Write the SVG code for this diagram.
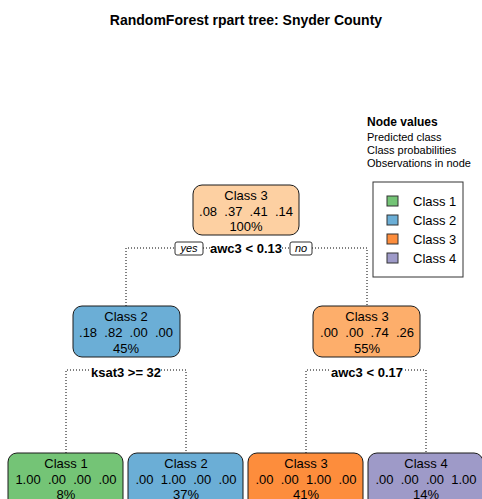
<svg xmlns="http://www.w3.org/2000/svg" width="482" height="499" viewBox="0 0 482 499">
<style>
text{font-family:"Liberation Sans",Arial,sans-serif;fill:#000}
.t{font-size:14px;font-weight:bold}
.n{font-size:13px;text-anchor:middle}
.s{font-size:13px;font-weight:bold;text-anchor:middle}
.yn{font-size:11px;font-style:italic;text-anchor:middle}
.box{stroke:#1a1a1a;stroke-width:1}
.c{fill:none;stroke:#000;stroke-width:1;stroke-dasharray:1 2}
.lg{font-size:11px}
.lt{font-size:12px;font-weight:bold}
.li{font-size:13px}
</style>
<rect width="482" height="499" fill="#fff"/>
<text class="t" x="246" y="25" text-anchor="middle">RandomForest rpart tree: Snyder County</text>
<g id="connectors">
<path class="c" d="M126,306 V248 H175 M203,248 H210 M282,248 H290 M312,248 H367 V306"/>
<path class="c" d="M66,453 V370 H91 M161,370 H186 V453"/>
<path class="c" d="M306,453 V370 H329 M405,370 H426 V453"/>
<rect x="175" y="242" width="28" height="13" rx="2" fill="#fff" stroke="#333"/>
<text class="yn" x="189" y="252">yes</text>
<rect x="290" y="242" width="22" height="13" rx="2" fill="#fff" stroke="#333"/>
<text class="yn" x="301" y="252">no</text>
<text class="s" x="246" y="253">awc3 &lt; 0.13</text>
<text class="s" x="126" y="377">ksat3 &gt;= 32</text>
<text class="s" x="367" y="377">awc3 &lt; 0.17</text>
</g>
<g id="node1">
<rect class="box" x="193" y="185" width="106" height="50" rx="9" fill="#fdd0a2"/>
<text class="n" x="246" y="200">Class 3</text>
<text class="n" x="246" y="216" xml:space="preserve">.08  .37  .41  .14</text>
<text class="n" x="246" y="231">100%</text>
</g>
<g id="node2">
<rect class="box" x="73" y="306" width="107" height="51" rx="9" fill="#6baed6"/>
<text class="n" x="126" y="321">Class 2</text>
<text class="n" x="126" y="337" xml:space="preserve">.18  .82  .00  .00</text>
<text class="n" x="126" y="353">45%</text>
</g>
<g id="node3">
<rect class="box" x="313" y="306" width="107" height="51" rx="9" fill="#fdae6b"/>
<text class="n" x="367" y="321">Class 3</text>
<text class="n" x="367" y="337" xml:space="preserve">.00  .00  .74  .26</text>
<text class="n" x="367" y="353">55%</text>
</g>
<g id="node4">
<rect class="box" x="8" y="453" width="115" height="60" rx="9" fill="#74c476"/>
<text class="n" x="66" y="468">Class 1</text>
<text class="n" x="66" y="484" xml:space="preserve">1.00  .00  .00  .00</text>
<text class="n" x="66" y="499">8%</text>
</g>
<g id="node5">
<rect class="box" x="128" y="453" width="115" height="60" rx="9" fill="#6baed6"/>
<text class="n" x="186" y="468">Class 2</text>
<text class="n" x="186" y="484" xml:space="preserve">.00  1.00  .00  .00</text>
<text class="n" x="186" y="499">37%</text>
</g>
<g id="node6">
<rect class="box" x="248" y="453" width="115" height="60" rx="9" fill="#fd8d3c"/>
<text class="n" x="306" y="468">Class 3</text>
<text class="n" x="306" y="484" xml:space="preserve">.00  .00  1.00  .00</text>
<text class="n" x="306" y="499">41%</text>
</g>
<g id="node7">
<rect class="box" x="368" y="453" width="115" height="60" rx="9" fill="#9e9ac8"/>
<text class="n" x="426" y="468">Class 4</text>
<text class="n" x="426" y="484" xml:space="preserve">.00  .00  .00  1.00</text>
<text class="n" x="426" y="499">14%</text>
</g>
<g id="legend">
<text class="lt" x="367" y="126">Node values</text>
<text class="lg" x="367" y="141">Predicted class</text>
<text class="lg" x="367" y="154">Class probabilities</text>
<text class="lg" x="367" y="167">Observations in node</text>
<rect x="373" y="182" width="90" height="95" fill="#fff" stroke="#333"/>
<rect x="387" y="196" width="11" height="10" fill="#74c476" stroke="#333"/>
<rect x="387" y="215" width="11" height="10" fill="#6baed6" stroke="#333"/>
<rect x="387" y="234" width="11" height="10" fill="#fd8d3c" stroke="#333"/>
<rect x="387" y="253" width="11" height="10" fill="#9e9ac8" stroke="#333"/>
<text class="li" x="413" y="206">Class 1</text>
<text class="li" x="413" y="225">Class 2</text>
<text class="li" x="413" y="244">Class 3</text>
<text class="li" x="413" y="263">Class 4</text>
</g>
</svg>
